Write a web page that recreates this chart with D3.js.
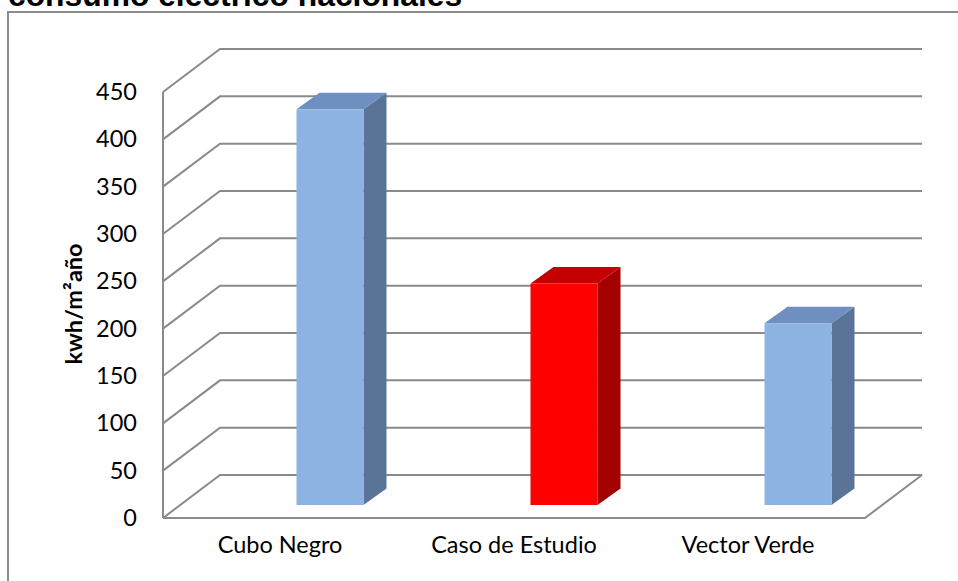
<!DOCTYPE html>
<html>
<head>
<meta charset="utf-8">
<script src="https://cdn.jsdelivr.net/npm/d3@7"></script>
<style>
  html, body { margin: 0; padding: 0; background: #fff; }
  svg { display: block; }
</style>
</head>
<body>
<script>
// Consumo eléctrico por m² y año
const categories = ["Cubo Negro", "Caso de Estudio", "Vector Verde"];
const values = [418, 234, 192];
const highlight = [false, true, false];
const yTicks = [0, 50, 100, 150, 200, 250, 300, 350, 400, 450];

const W = 958, H = 581;
const svg = d3.select("body").append("svg").attr("width", W).attr("height", H);

// plot geometry (front plane of the 3D box)
const front = { left: 163, right: 865, bottom: 518, top: 92 };
const depth = { dx: 57, dy: -43 };        // wall depth offset
const barDepth = { dx: 23, dy: -16.5 };   // bar depth offset
const barLift = 13;                       // bars sit slightly behind the front edge
const barShift = 50;                      // horizontal shift of bar front face from label centre
const barW = 67;

const y = d3.scaleLinear().domain([0, 450]).range([front.bottom, front.top]);
const x = d3.scaleBand().domain(categories).range([front.left, front.right]);

const gridColor = "#8a8a8a";

// chart frame
svg.append("rect")
  .attr("x", 8).attr("y", 12).attr("width", W + 20).attr("height", H + 20)
  .attr("fill", "none").attr("stroke", "#8c8c8c").attr("stroke-width", 2);

// title
svg.append("text")
  .attr("x", 8).attr("y", 6)
  .attr("font-family", "Liberation Sans, Arial, sans-serif")
  .attr("font-weight", "bold").attr("font-size", 31.8)
  .attr("fill", "#000")
  .text("consumo eléctrico nacionales");

const grid = svg.append("g")
  .attr("fill", "none").attr("stroke", gridColor).attr("stroke-width", 2);

// back wall horizontal lines and side-wall diagonals
yTicks.forEach(t => {
  const yf = y(t);
  grid.append("path")
    .attr("d", `M${front.left},${yf} L${front.left + depth.dx},${yf + depth.dy} L${front.right + depth.dx},${yf + depth.dy}`);
});
// left wall front edge
grid.append("line")
  .attr("x1", front.left).attr("x2", front.left)
  .attr("y1", y(450)).attr("y2", y(0));
// floor front and right edges
grid.append("path")
  .attr("d", `M${front.left},${y(0)} L${front.right},${y(0)} L${front.right + depth.dx},${y(0) + depth.dy}`);

// y tick labels
svg.append("g")
  .selectAll("text").data(yTicks).join("text")
  .attr("x", 137).attr("y", d => y(d) + 2)
  .attr("text-anchor", "end").attr("dominant-baseline", "middle")
  .attr("font-family", "Lato, sans-serif").attr("font-size", 23.5)
  .attr("fill", "#000")
  .text(d => d);

// y axis title
svg.append("text")
  .attr("transform", "translate(82,304) rotate(-90)")
  .attr("text-anchor", "middle")
  .attr("font-family", "Lato, sans-serif").attr("font-weight", "bold").attr("font-size", 23.5)
  .attr("fill", "#000")
  .text("kwh/m²año");

// category labels
svg.append("g")
  .selectAll("text").data(categories).join("text")
  .attr("x", d => x(d) + x.bandwidth() / 2).attr("y", 553)
  .attr("text-anchor", "middle")
  .attr("font-family", "Lato, sans-serif").attr("font-size", 23.5)
  .attr("fill", "#000")
  .text(d => d);

// 3D bars
const palette = {
  normal: { front: "#8db3e2", top: "#6e8fbf", side: "#5a7498" },
  hot:    { front: "#ff0000", top: "#c40000", side: "#a30000" }
};
const base = y(0) - barLift;
const bars = svg.append("g");
categories.forEach((c, i) => {
  const col = highlight[i] ? palette.hot : palette.normal;
  const x0 = x(c) + x.bandwidth() / 2 + barShift - barW / 2;
  const x1 = x0 + barW;
  const hPx = y(0) - y(values[i]);
  const yt = base - hPx;
  const g = bars.append("g");
  // side face
  g.append("path")
    .attr("d", `M${x1},${yt} L${x1 + barDepth.dx},${yt + barDepth.dy} L${x1 + barDepth.dx},${base + barDepth.dy} L${x1},${base} Z`)
    .attr("fill", col.side);
  // top face
  g.append("path")
    .attr("d", `M${x0},${yt} L${x0 + barDepth.dx},${yt + barDepth.dy} L${x1 + barDepth.dx},${yt + barDepth.dy} L${x1},${yt} Z`)
    .attr("fill", col.top);
  // front face
  g.append("rect")
    .attr("x", x0).attr("y", yt).attr("width", barW).attr("height", hPx)
    .attr("fill", col.front);
});
</script>
</body>
</html>
